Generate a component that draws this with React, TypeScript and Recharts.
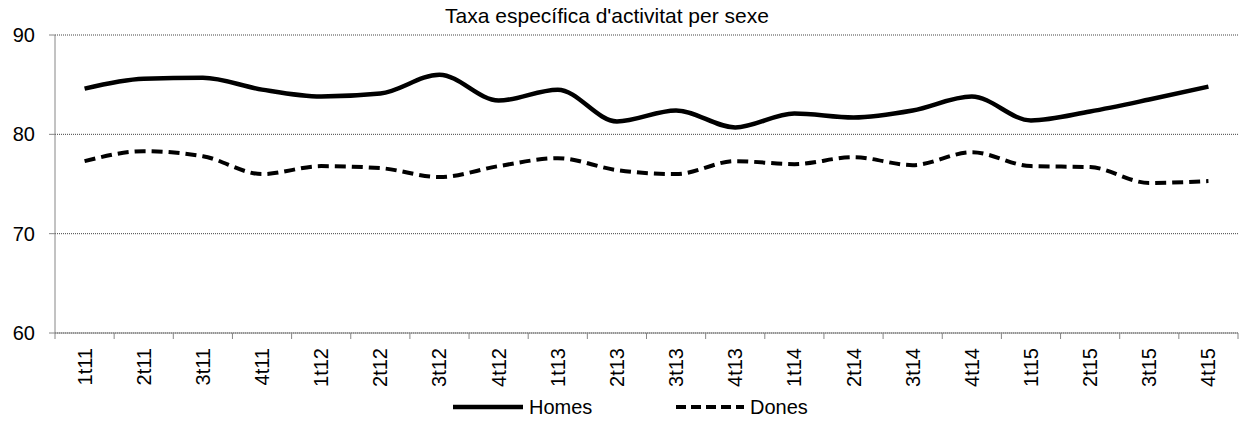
import React from 'react';
import { LineChart, Line, XAxis, YAxis, CartesianGrid } from 'recharts';

const quarters = [
  '1t11', '2t11', '3t11', '4t11',
  '1t12', '2t12', '3t12', '4t12',
  '1t13', '2t13', '3t13', '4t13',
  '1t14', '2t14', '3t14', '4t14',
  '1t15', '2t15', '3t15', '4t15',
];
const homes = [84.6, 85.6, 85.7, 84.5, 83.8, 84.1, 86.0, 83.4, 84.5, 81.3, 82.4, 80.7, 82.1, 81.7, 82.4, 83.8, 81.4, 82.3, 83.5, 84.8];
const dones = [77.3, 78.3, 77.8, 76.0, 76.8, 76.6, 75.7, 76.8, 77.6, 76.4, 76.0, 77.3, 77.0, 77.7, 76.9, 78.2, 76.8, 76.7, 75.1, 75.3];
const yTicks = [60, 70, 80, 90];

const data = quarters.map((q, i) => ({ q, Homes: homes[i], Dones: dones[i] }));

const W = 1242;
const H = 423;
const LEFT = 55;
const RIGHT = 4;
const TOP = 35;
const XAXIS_H = 90;
const PLOT_BOTTOM = H - XAXIS_H;
const BAND = (W - LEFT - RIGHT) / quarters.length;
const FONT = '"Liberation Sans", Arial, sans-serif';
const AXIS_COLOR = '#868686';

const QuarterTick = (props: any) => {
  const { x, index, payload } = props;
  const left = x - BAND / 2;
  const isLast = index === quarters.length - 1;
  return (
    <g>
      <line x1={left} x2={left} y1={PLOT_BOTTOM} y2={PLOT_BOTTOM + 6} stroke={AXIS_COLOR} />
      {isLast && (
        <line x1={x + BAND / 2} x2={x + BAND / 2} y1={PLOT_BOTTOM} y2={PLOT_BOTTOM + 6} stroke={AXIS_COLOR} />
      )}
      <text
        x={x}
        y={PLOT_BOTTOM + 15}
        transform={`rotate(-90, ${x}, ${PLOT_BOTTOM + 15})`}
        textAnchor="end"
        dominantBaseline="central"
        fontSize={20}
        fontFamily={FONT}
        fill="#000"
      >
        {payload.value}
      </text>
    </g>
  );
};

const App = () => {
  return (
    <div style={{ position: 'absolute', left: 0, top: 0, width: W, height: H, fontFamily: FONT, background: '#fff' }}>
      <div style={{ position: 'absolute', left: 0, width: 1214, top: 4, textAlign: 'center', fontSize: 21, lineHeight: '24px' }}>
        Taxa específica d'activitat per sexe
      </div>
      <LineChart width={W} height={H} data={data} margin={{ top: TOP, right: RIGHT, bottom: 0, left: 0 }}>
        <CartesianGrid vertical={false} stroke="#444" strokeDasharray="1 1" />
        <XAxis
          dataKey="q"
          height={XAXIS_H}
          interval={0}
          padding={{ left: BAND / 2, right: BAND / 2 }}
          tickLine={false}
          stroke={AXIS_COLOR}
          tick={<QuarterTick />}
        />
        <YAxis
          width={LEFT}
          domain={[60, 90]}
          ticks={yTicks}
          stroke={AXIS_COLOR}
          tickSize={6}
          tickMargin={14}
          tick={{ fill: '#000', fontSize: 20, fontFamily: FONT }}
        />
        <Line
          type="monotone"
          dataKey="Homes"
          stroke="#000"
          strokeWidth={4.5}
          dot={false}
          isAnimationActive={false}
        />
        <Line
          type="monotone"
          dataKey="Dones"
          stroke="#000"
          strokeWidth={4}
          strokeDasharray="11 6"
          dot={false}
          isAnimationActive={false}
        />
      </LineChart>
      <div style={{ position: 'absolute', top: 395, left: 0, width: W, height: 24, fontSize: 20 }}>
        <svg width={72} height={24} style={{ position: 'absolute', left: 453, top: 0 }}>
          <line x1={0} x2={70} y1={12} y2={12} stroke="#000" strokeWidth={4.5} />
        </svg>
        <span style={{ position: 'absolute', left: 529, top: 0, lineHeight: '24px' }}>Homes</span>
        <svg width={70} height={24} style={{ position: 'absolute', left: 676, top: 0 }}>
          <line x1={0} x2={68} y1={12} y2={12} stroke="#000" strokeWidth={4} strokeDasharray="10 5" />
        </svg>
        <span style={{ position: 'absolute', left: 750, top: 0, lineHeight: '24px' }}>Dones</span>
      </div>
    </div>
  );
};

export default App;
